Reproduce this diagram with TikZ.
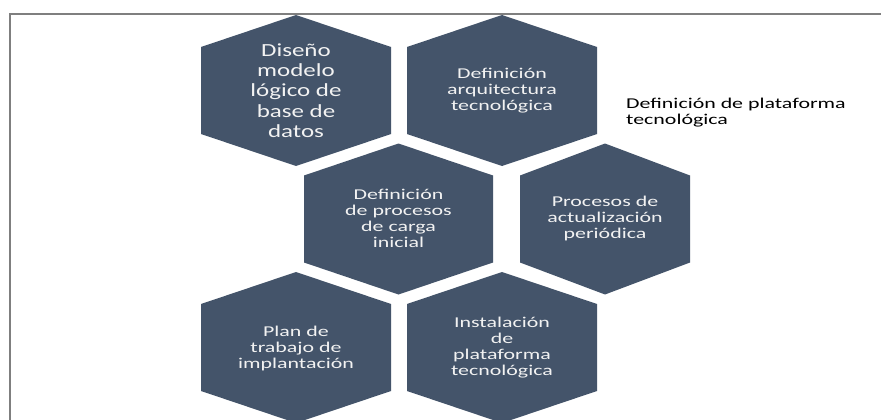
\documentclass[tikz,border=0pt]{standalone}
\usepackage{fontspec}
\setmainfont{Carlito}[FakeStretch=1.46]
\newfontfamily\bigfont{Carlito}[FakeStretch=1.35]
\definecolor{hexfill}{HTML}{44546A}
\definecolor{hextext}{HTML}{F2F2F2}
\definecolor{framecol}{HTML}{7F7F7F}
\newcommand\hexshape[3]{%
  \fill[hexfill] (#1,#2-75.5) -- (#1+#3,#2-43.5) -- (#1+#3,#2+43.5) -- (#1,#2+75.5) -- (#1-#3,#2+43.5) -- (#1-#3,#2-43.5) -- cycle;}
\begin{document}
\begin{tikzpicture}[x=1pt,y=-1pt,
  hexlabel/.style={text=hextext, align=center, inner sep=0pt, font=\fontsize{15}{16}\selectfont},
  biglabel/.style={hexlabel, font=\bigfont\fontsize{18.5}{20.3}\selectfont},
  sidelabel/.style={text=black, align=left, anchor=north west, inner sep=0pt, font=\fontsize{15}{16}\selectfont}]
\useasboundingbox (0,0) rectangle (881,420);
\clip (0,0) rectangle (881,420);
\fill[white] (0,0) rectangle (881,420);
\draw[framecol, line width=2pt] (10,422) -- (10,14) -- (882,14);
\hexshape{296}{90.5}{95}
\hexshape{502}{90.5}{95}
\hexshape{398.5}{219}{94.5}
\hexshape{605}{219}{85}
\hexshape{296}{347.5}{95}
\hexshape{502}{347.5}{95}
\node[biglabel] (h1) at (296,90.5) {Diseño\\modelo\\lógico de\\base de\\datos};
\node[hexlabel] (h2) at (502,90.5) {Definición\\arquitectura\\tecnológica};
\node[hexlabel] (h3) at (398.5,218.5) {Definición\\de procesos\\de carga\\inicial};
\node[hexlabel] (h4) at (605,218.5) {Procesos de\\actualización\\periódica};
\node[hexlabel] (h5) at (296,348) {Plan de\\trabajo de\\implantación};
\node[hexlabel] (h6) at (502,348) {Instalación\\de\\plataforma\\tecnológica};
\node[sidelabel] (side) at (626,98) {Definición de plataforma\\tecnológica};
\end{tikzpicture}
\end{document}
